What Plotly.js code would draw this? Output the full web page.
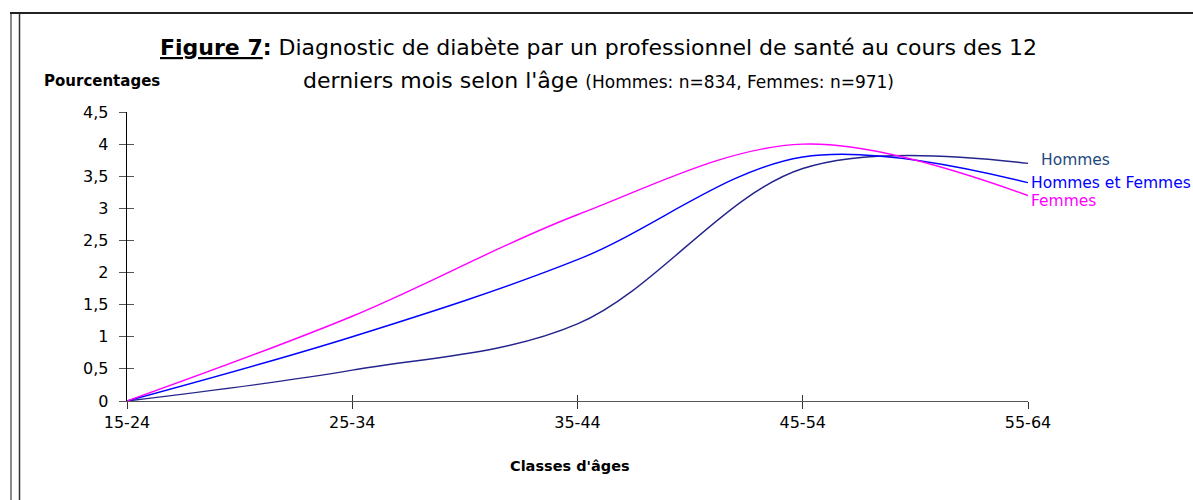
<!DOCTYPE html>
<html>
<head>
<meta charset="utf-8">
<script src="https://cdn.plot.ly/plotly-3.0.1.min.js"></script>
<style>
  html, body { margin: 0; padding: 0; background: #ffffff; }
  #chart { width: 1193px; height: 500px; }
</style>
</head>
<body>
<div id="chart"></div>
<script>
// ---- data ----
const categories = ["15-24", "25-34", "35-44", "45-54", "55-64"];
const hommes = [0, 0.48, 1.2, 3.62, 3.7];
const hommesEtFemmes = [0, 1.0, 2.2, 3.8, 3.4];
const femmes = [0, 1.32, 2.9, 4.0, 3.2];
const seriesNames = ["Hommes", "Hommes et Femmes", "Femmes"];
const yTickVals = [0, 0.5, 1, 1.5, 2, 2.5, 3, 3.5, 4, 4.5];
const yTickText = ["0", "0,5", "1", "1,5", "2", "2,5", "3", "3,5", "4", "4,5"];

// ---- layout geometry ----
const W = 1193, H = 500;
const M = { l: 127, r: 165, t: 112, b: 99 };
const PW = W - M.l - M.r, PH = H - M.t - M.b;
const px = x => (x - M.l) / PW;
const py = y => (H - M.b - y) / PH;

const FONT = '"DejaVu Sans", "Liberation Sans", Arial, sans-serif';
const colors = ["#24248C", "#0000FF", "#FF00FF"];
const seriesData = [hommes, hommesEtFemmes, femmes];

const traces = seriesData.map((vals, i) => ({
  type: "scatter",
  mode: "lines",
  x: categories,
  y: vals,
  name: seriesNames[i],
  line: { color: colors[i], width: 1.4, shape: "spline", smoothing: 1 },
  hoverinfo: "skip",
  showlegend: false
}));

const labelColors = ["#1F497D", "#0000FF", "#FF00FF"];
const labelShift = [{ x: 11, y: 3 }, { x: 1, y: 0 }, { x: 1, y: -6 }];
const endLabels = seriesData.map((vals, i) => ({
  xref: "paper", yref: "y",
  x: 1, y: vals[vals.length - 1],
  xanchor: "left", yanchor: "middle",
  xshift: labelShift[i].x, yshift: labelShift[i].y,
  text: seriesNames[i], showarrow: false,
  font: { family: FONT, size: 15.5, color: labelColors[i] }
}));

const layout = {
  width: W, height: H,
  margin: M,
  paper_bgcolor: "#ffffff",
  plot_bgcolor: "#ffffff",
  showlegend: false,
  font: { family: FONT, color: "#000000" },
  xaxis: {
    type: "category",
    range: [0, categories.length - 1],
    showgrid: false, zeroline: false,
    showline: true, linecolor: "#555555", linewidth: 1.3,
    ticks: "outside", ticklen: 7, tickcolor: "#333333", tickwidth: 1,
    ticklabelstandoff: -1,
    tickfont: { family: FONT, size: 16, color: "#000000" },
    fixedrange: true
  },
  yaxis: {
    range: [0, 4.5],
    tickvals: yTickVals, ticktext: yTickText,
    showgrid: false, zeroline: false,
    showline: true, linecolor: "#000000", linewidth: 1.3,
    ticks: "outside", ticklen: 7, tickcolor: "#555555", tickwidth: 1,
    ticklabelstandoff: 7,
    tickfont: { family: FONT, size: 16, color: "#000000" },
    fixedrange: true
  },
  xaxis2: {
    type: "category", overlaying: "x", anchor: "y2",
    range: [0, categories.length - 1],
    tickvals: categories,
    showgrid: false, zeroline: false, showline: false,
    ticks: "inside", ticklen: 6, tickcolor: "#333333", tickwidth: 1,
    showticklabels: false, fixedrange: true
  },
  yaxis2: {
    overlaying: "y", anchor: "x2",
    range: [0, 4.5], tickvals: yTickVals,
    showgrid: false, zeroline: false, showline: false,
    ticks: "inside", ticklen: 7, tickcolor: "#555555", tickwidth: 1,
    showticklabels: false, fixedrange: true
  },
  annotations: [
    {
      xref: "paper", yref: "paper", x: px(598), y: py(48),
      xanchor: "center", yanchor: "middle", showarrow: false,
      text: "<b><u>Figure 7</u>:</b> Diagnostic de diabète par un professionnel de santé au cours des 12",
      font: { family: FONT, size: 22, color: "#000000" }
    },
    {
      xref: "paper", yref: "paper", x: px(598), y: py(81),
      xanchor: "center", yanchor: "middle", showarrow: false,
      text: "derniers mois selon l'âge <span style=\"font-size:17px\">(Hommes: n=834, Femmes: n=971)</span>",
      font: { family: FONT, size: 22, color: "#000000" }
    },
    {
      xref: "paper", yref: "paper", x: px(42), y: py(81),
      xanchor: "left", yanchor: "middle", showarrow: false,
      text: "<b>Pourcentages</b>",
      font: { family: FONT, size: 15, color: "#000000" }
    },
    {
      xref: "paper", yref: "paper", x: px(570), y: py(466),
      xanchor: "center", yanchor: "middle", showarrow: false,
      text: "<b>Classes d'âges</b>",
      font: { family: FONT, size: 14.5, color: "#000000" }
    }
  ].concat(endLabels),
  shapes: [
    { type: "line", xref: "paper", yref: "paper", x0: px(11), x1: px(11), y0: py(12), y1: py(500), line: { color: "#8a8a8a", width: 2 } },
    { type: "line", xref: "paper", yref: "paper", x0: px(19.5), x1: px(19.5), y0: py(13), y1: py(500), line: { color: "#333333", width: 1.5 } },
    { type: "line", xref: "paper", yref: "paper", x0: px(10), x1: px(1193), y0: py(13), y1: py(13), line: { color: "#222222", width: 2 } }
  ]
};

// invisible helper trace so the overlay tick axes are drawn
traces.push({
  type: "scatter", mode: "lines", x: categories, y: hommes,
  xaxis: "x2", yaxis: "y2", line: { width: 0, color: "rgba(0,0,0,0)" },
  hoverinfo: "skip", showlegend: false
});

Plotly.newPlot("chart", traces, layout, { displayModeBar: false, staticPlot: true });
</script>
</body>
</html>
